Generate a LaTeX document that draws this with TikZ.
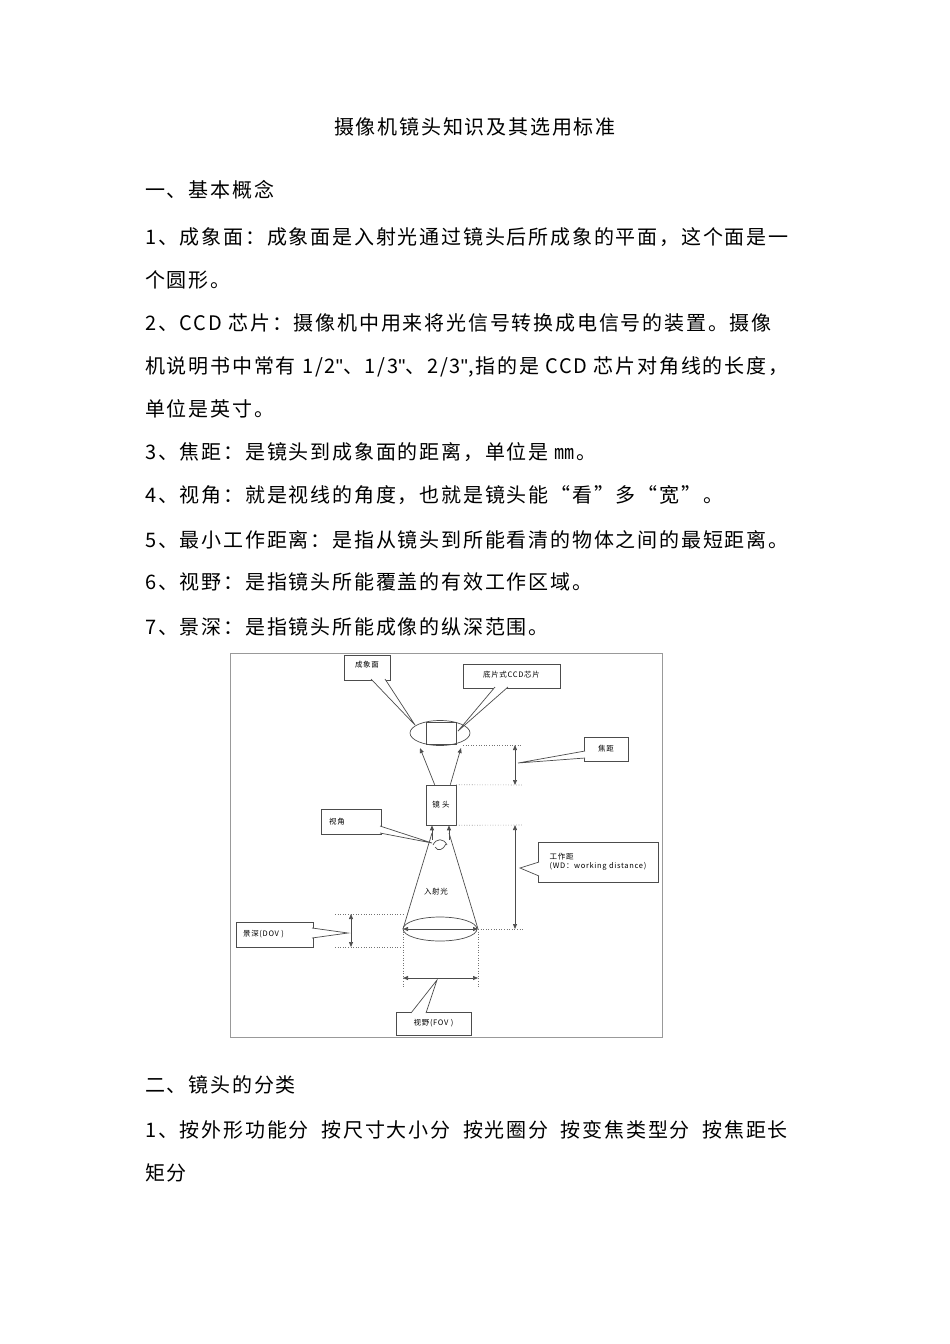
\documentclass[tikz,border=0pt]{standalone}
\usepackage{fontspec}
\setmainfont[LetterSpace=9]{Noto Sans CJK SC}
\newfontfamily\latn{Liberation Sans}
\usetikzlibrary{arrows.meta}
\begin{document}
\begin{tikzpicture}[x=1pt,y=-1pt,
  body/.style={anchor=base west,inner sep=0pt,font=\fontsize{20}{24}\selectfont},
  lbl/.style={draw=black!70,line width=0.6pt,fill=white,inner sep=1pt,font=\fontsize{7.5}{9}\selectfont,align=left},
  ln/.style={draw=black!70,line width=0.7pt},
  dot/.style={draw=black!55,line width=0.6pt,dotted},
  dim/.style={ln,{Triangle[length=5pt,width=4pt]}-{Triangle[length=5pt,width=4pt]}},
  up/.style={ln,-{Triangle[length=5pt,width=4pt]}}]
\useasboundingbox (0,0) rectangle (950,1344);
\node[anchor=base,inner sep=0pt,font=\fontsize{20}{24}\selectfont] (title) at (475,134) {摄像机镜头知识及其选用标准};
\node[body] (t1) at (145,197) {一、基本概念};
\node[body] (t2) at (145,244) {1、成象面：成象面是入射光通过镜头后所成象的平面，这个面是一};
\node[body] (t3) at (145,287) {个圆形。};
\node[body] (t4) at (145,330) {2、CCD 芯片：摄像机中用来将光信号转换成电信号的装置。摄像};
\node[body] (t5) at (145,373) {机说明书中常有 1/2{\latn"}、1/3{\latn"}、2/3{\latn"},指的是 CCD 芯片对角线的长度，};
\node[body] (t6) at (145,416) {单位是英寸。};
\node[body] (t7) at (145,459) {3、焦距：是镜头到成象面的距离，单位是 ㎜。};
\node[body] (t8) at (145,502) {4、视角：就是视线的角度，也就是镜头能“看”多“宽”。};
\node[body] (t9) at (145,547) {5、最小工作距离：是指从镜头到所能看清的物体之间的最短距离。};
\node[body] (t10) at (145,589) {6、视野：是指镜头所能覆盖的有效工作区域。};
\node[body] (t11) at (145,634) {7、景深：是指镜头所能成像的纵深范围。};
\node[body] (t12) at (145,1092) {二、镜头的分类};
\node[body] (t13) at (145,1137) {1、按外形功能分\ \ 按尺寸大小分\ \ 按光圈分\ \ 按变焦类型分\ \ 按焦距长};
\node[body] (t14) at (145,1180) {矩分};
% frame
\draw[draw=black!40,line width=0.8pt] (230,653) rectangle (662,1037);
% image plane
\draw[ln] (440,733) ellipse [x radius=30,y radius=12.5];
\draw[ln] (426,722) rectangle (456,744);
% lens
\node[lbl,minimum width=30pt,minimum height=40pt,align=center] (lens) at (441,805) {镜 头};
\coordinate (pl) at (420,748); \coordinate (pr) at (461,748);
\draw[up] (lens.north west) ++(9,0) -- (pl);
\draw[up] (lens.north east) ++(-6,0) -- (pr);
% focal distance
\draw[dot] (463,745) -- (522,745);
\draw[dot] (lens.north east) -- (522,785);
\draw[dim] (515,745) -- (515,785);
\draw[dot] (lens.south east) -- (522,825);
\draw[dim] (515,825) -- (515,929);
% cone
\coordinate (cl) at (403,929); \coordinate (cr) at (478,929);
\draw[ln] (432,833) -- (cl);
\draw[ln] (449,833) -- (cr);
\draw[up] (432,840) -- (lens.south west -| 432,0);
\draw[up] (449,840) -- (lens.south east -| 449,0);
\draw[ln] (433,845) .. controls (436,838) and (444,838) .. (447,845);
\draw[ln] (435,847) .. controls (438,852) and (443,850) .. (446,844);
\node[font=\fontsize{7.5}{8}\selectfont,inner sep=0pt] (inc) at (436,892) {入射光};
\draw[ln] (440,929) ellipse [x radius=37,y radius=12];
\draw[dim] (cl) -- (cr);
\draw[dot] (cr) -- (523,929);
% DOV
\draw[dot] (335,914) -- (403,914);
\draw[dot] (335,947) -- (403,947);
\draw[dim] (351,914) -- (351,947);
% FOV
\draw[dot] (cl) -- (403,987);
\draw[dot] (cr) -- (478,987);
\draw[dim] (403,978) -- (478,978);
% callouts
\newcommand{\callout}[3]{\fill[white] (#1) -- (#2) -- (#3) -- cycle; \draw[ln] (#1) -- (#2) -- (#3);}
\node[lbl,minimum width=46pt,minimum height=25pt,anchor=center] (cxm) at (367,667.5) {\raisebox{6pt}{成象面}};
\callout{371,679}{415,725}{385,679}
\node[lbl,minimum width=97pt,minimum height=24pt] (ccd) at (511.5,676) {\raisebox{4pt}{底片式CCD芯片}};
\callout{495,687}{458,731}{508,687}
\node[lbl,minimum width=44pt,minimum height=24pt] (jj) at (606,749) {焦距};
\callout{585,751}{518,763}{585,758}
\node[lbl,minimum width=60pt,minimum height=25pt] (sj) at (351,821.5) {\hspace*{-28pt}视角};
\callout{380,826}{432,843}{380,833}
\node[lbl,minimum width=120pt,minimum height=40pt] (wd) at (598,862) {工作距\\(WD：working distance)};
\callout{539,862}{520,868}{539,876}
\node[lbl,minimum width=77pt,minimum height=25pt] (dov) at (274.5,934.5) {景深(DOV )\hspace*{22pt}};
\callout{312,928}{348,933}{312,938}
\node[lbl,minimum width=75pt,minimum height=23pt] (fov) at (433.5,1023.5) {视野(FOV )};
\callout{411,1013}{437,980}{426,1013}
\end{tikzpicture}
\end{document}
